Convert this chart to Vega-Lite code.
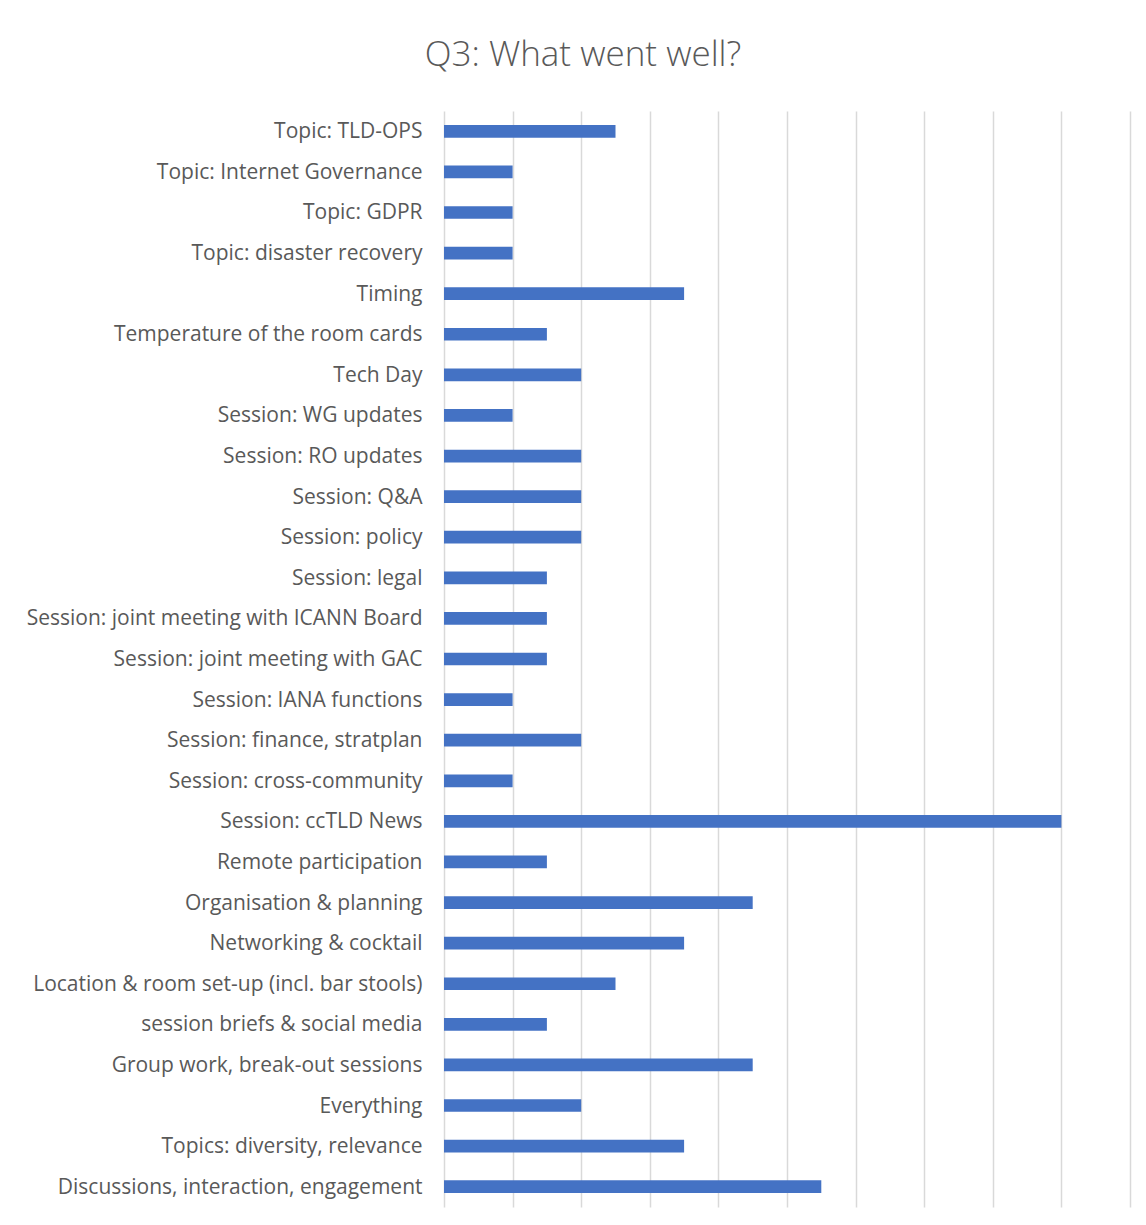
{
  "$schema": "https://vega.github.io/schema/vega-lite/v6.json",
  "autosize": "none",
  "width": 686,
  "height": 1096,
  "padding": {"left": 444, "top": 111, "right": 16, "bottom": 18},
  "background": "white",
  "title": {
    "text": "Q3: What went well?",
    "fontSize": 35,
    "font": "Open Sans",
    "fontWeight": 300,
    "color": "#595959",
    "anchor": "middle",
    "baseline": "alphabetic",
    "offset": 10,
    "dx": -204
  },
  "data": {
    "values": [
      {"category": "Topic: TLD-OPS", "count": 5},
      {"category": "Topic: Internet Governance", "count": 2},
      {"category": "Topic: GDPR", "count": 2},
      {"category": "Topic: disaster recovery", "count": 2},
      {"category": "Timing", "count": 7},
      {"category": "Temperature of the room cards", "count": 3},
      {"category": "Tech Day", "count": 4},
      {"category": "Session: WG updates", "count": 2},
      {"category": "Session: RO updates", "count": 4},
      {"category": "Session: Q&A", "count": 4},
      {"category": "Session: policy", "count": 4},
      {"category": "Session: legal", "count": 3},
      {"category": "Session: joint meeting with ICANN Board", "count": 3},
      {"category": "Session: joint meeting with GAC", "count": 3},
      {"category": "Session: IANA functions", "count": 2},
      {"category": "Session: finance, stratplan", "count": 4},
      {"category": "Session: cross-community", "count": 2},
      {"category": "Session: ccTLD News", "count": 18},
      {"category": "Remote participation", "count": 3},
      {"category": "Organisation & planning", "count": 9},
      {"category": "Networking & cocktail", "count": 7},
      {"category": "Location & room set-up (incl. bar stools)", "count": 5},
      {"category": "session briefs & social media", "count": 3},
      {"category": "Group work, break-out sessions", "count": 9},
      {"category": "Everything", "count": 4},
      {"category": "Topics: diversity, relevance", "count": 7},
      {"category": "Discussions, interaction, engagement", "count": 11}
    ]
  },
  "mark": {"type": "bar", "color": "#4472C4"},
  "encoding": {
    "y": {
      "field": "category",
      "type": "nominal",
      "sort": null,
      "scale": {"paddingInner": 0.687, "paddingOuter": 0.3435},
      "axis": {
        "title": null,
        "ticks": false,
        "domain": false,
        "labelPadding": 22,
        "labelFont": "Open Sans",
        "labelFontSize": 21,
        "labelColor": "#595959",
        "labelLimit": 500,
        "labelOffset": 1
      }
    },
    "x": {
      "field": "count",
      "type": "quantitative",
      "scale": {"domain": [0, 20], "nice": false},
      "axis": {
        "title": null,
        "values": [0, 2, 4, 6, 8, 10, 12, 14, 16, 18, 20],
        "labels": false,
        "ticks": false,
        "domain": false,
        "grid": true,
        "gridColor": "#D9D9D9",
        "gridWidth": 1.5
      }
    }
  },
  "config": {"view": {"stroke": null}}
}
